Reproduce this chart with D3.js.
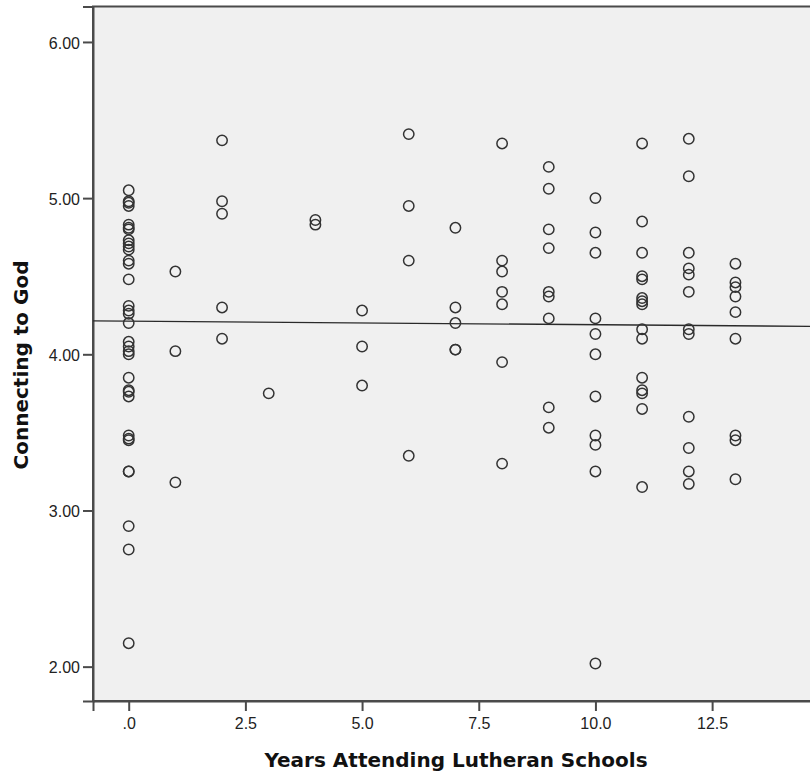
<!DOCTYPE html>
<html lang="en">
<head>
    <meta charset="UTF-8">
    <title>Connecting to God by Years Attending Lutheran Schools</title>
    <script src="https://d3js.org/d3.v7.min.js"></script>
    <style>
        body {
            margin: 0;
            background: #fff;
            overflow: hidden;
        }
        .axis-title {
            font-family: "DejaVu Sans", sans-serif;
            font-weight: bold;
            font-size: 20px;
            fill: #111;
        }
    </style>
</head>
<body>
    <div id="chart"></div>

    <script>
        // Years attending (x) and the Connecting to God scores seen at each year
        var years = [0, 1, 2, 3, 4, 5, 6, 7, 8, 9, 10, 11, 12, 13];
        var scoresByYear = [
            [5.05, 4.98, 4.97, 4.95, 4.83, 4.81, 4.80, 4.73, 4.71, 4.69, 4.67, 4.60, 4.58, 4.48,
             4.31, 4.28, 4.26, 4.20, 4.08, 4.05, 4.02, 4.00, 3.85, 3.77, 3.76, 3.73, 3.48, 3.46,
             3.45, 3.25, 3.25, 2.90, 2.75, 2.15],
            [4.53, 4.02, 3.18],
            [5.37, 4.98, 4.90, 4.30, 4.10],
            [3.75],
            [4.86, 4.83],
            [4.28, 4.05, 3.80],
            [5.41, 4.95, 4.60, 3.35],
            [4.81, 4.30, 4.20, 4.03, 4.03],
            [5.35, 4.60, 4.53, 4.40, 4.32, 3.95, 3.30],
            [5.20, 5.06, 4.80, 4.68, 4.40, 4.37, 4.23, 3.66, 3.53],
            [5.00, 4.78, 4.65, 4.23, 4.13, 4.00, 3.73, 3.48, 3.42, 3.25, 2.02],
            [5.35, 4.85, 4.65, 4.50, 4.48, 4.36, 4.34, 4.32, 4.16, 4.10, 3.85, 3.77, 3.75, 3.65, 3.15],
            [5.38, 5.14, 4.65, 4.55, 4.51, 4.40, 4.16, 4.13, 3.60, 3.40, 3.25, 3.17],
            [4.58, 4.46, 4.43, 4.37, 4.27, 4.10, 3.48, 3.45, 3.20]
        ];

        // Tick values and labels as shown
        var xTicks = [0, 2.5, 5, 7.5, 10, 12.5];
        var xTickLabels = [".0", "2.5", "5.0", "7.5", "10.0", "12.5"];
        var yTicks = [2, 3, 4, 5, 6];
        var yTickLabels = ["2.00", "3.00", "4.00", "5.00", "6.00"];

        // Linear fit line (total)
        var fitIntercept = 4.2123;
        var fitSlope = -0.0023;

        var xDomain = [-0.765, 14.79];
        var yDomain = [1.78, 6.227];

        var width = 810;
        var height = 776;
        var margin = { top: 6.5, right: -9, bottom: 75, left: 93 };

        var points = [];
        years.forEach(function(yr, i) {
            scoresByYear[i].forEach(function(s) {
                points.push({ x: yr, y: s });
            });
        });

        var svg = d3.select("#chart")
            .append("svg")
            .attr("width", width)
            .attr("height", height);

        var x = d3.scaleLinear()
            .domain(xDomain)
            .range([margin.left, width - margin.right]);

        var y = d3.scaleLinear()
            .domain(yDomain)
            .range([height - margin.bottom, margin.top]);

        // Plot background
        svg.append("rect")
            .attr("x", margin.left)
            .attr("y", margin.top)
            .attr("width", width - margin.right - margin.left)
            .attr("height", height - margin.bottom - margin.top)
            .attr("fill", "#f0f0f0")
            .attr("stroke", "#4a4a4a")
            .attr("stroke-width", 2);

        // Axes
        var xAxis = svg.append("g")
            .attr("transform", "translate(0," + (height - margin.bottom) + ")")
            .call(d3.axisBottom(x)
                .tickValues(xTicks)
                .tickSize(10)
                .tickPadding(7)
                .tickFormat(function(d, i) { return xTickLabels[i]; }));

        var yAxis = svg.append("g")
            .attr("transform", "translate(" + margin.left + ",0)")
            .call(d3.axisLeft(y)
                .tickValues(yTicks)
                .tickSize(10)
                .tickPadding(3)
                .tickFormat(function(d, i) { return yTickLabels[i]; }));

        [xAxis, yAxis].forEach(function(ax) {
            ax.attr("font-family", "'Liberation Sans', Arial, sans-serif")
                .attr("font-size", 16);
            ax.select(".domain").attr("stroke", "#4a4a4a").attr("stroke-width", 2);
            ax.selectAll(".tick line").attr("stroke", "#4a4a4a").attr("stroke-width", 2);
            ax.selectAll(".tick text").attr("fill", "#222");
        });
        yAxis.selectAll(".tick text").attr("dy", "0.38em");

        // Fit line
        svg.append("line")
            .attr("x1", x(xDomain[0]))
            .attr("y1", y(fitIntercept + fitSlope * xDomain[0]))
            .attr("x2", x(xDomain[1]))
            .attr("y2", y(fitIntercept + fitSlope * xDomain[1]))
            .attr("stroke", "#2a2a2a")
            .attr("stroke-width", 1.4);

        // Points
        svg.append("g")
            .selectAll("circle")
            .data(points)
            .enter().append("circle")
            .attr("cx", function(d) { return x(d.x); })
            .attr("cy", function(d) { return y(d.y); })
            .attr("r", 5.2)
            .attr("fill", "none")
            .attr("stroke", "#333")
            .attr("stroke-width", 1.5);

        // Axis titles
        svg.append("text")
            .attr("class", "axis-title")
            .attr("x", 456)
            .attr("y", 767)
            .attr("text-anchor", "middle")
            .text("Years Attending Lutheran Schools");

        svg.append("text")
            .attr("class", "axis-title")
            .attr("transform", "translate(28,365) rotate(-90)")
            .attr("text-anchor", "middle")
            .text("Connecting to God");
    </script>
</body>
</html>
